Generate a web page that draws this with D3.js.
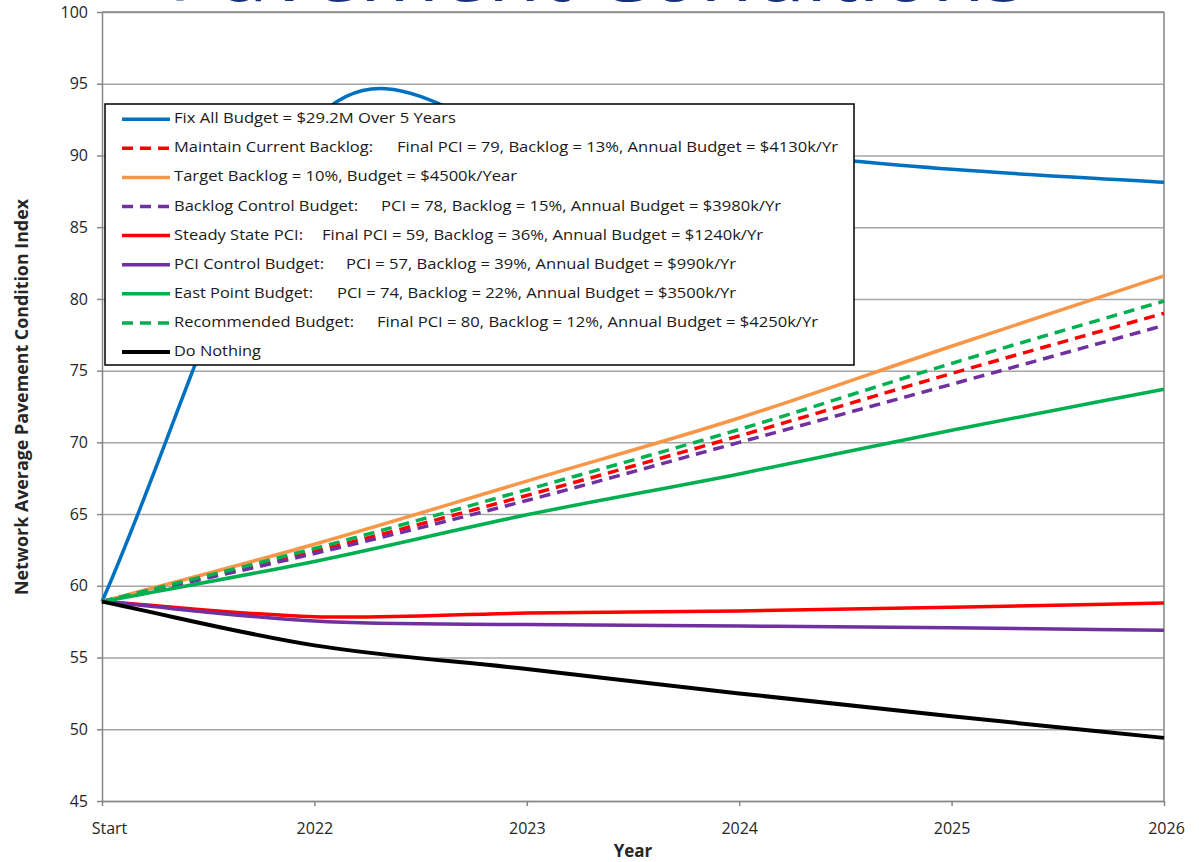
<!DOCTYPE html>
<html>
<head>
<meta charset="utf-8">
<script src="https://cdn.jsdelivr.net/npm/d3@7/dist/d3.min.js"></script>
<style>
  html, body { margin: 0; padding: 0; background: #ffffff; }
  svg { display: block; }
</style>
</head>
<body>
<svg id="chart" width="1199" height="862"></svg>
<script>
// ---------------- DATA ----------------
const categories = ["Start", "2022", "2023", "2024", "2025", "2026"];
const yTickValues = [45, 50, 55, 60, 65, 70, 75, 80, 85, 90, 95, 100];

const fixAllBudget      = [58.9, 92.4, 91.5, 90.3, 89.03, 88.13];
const maintainBacklog   = [58.9, 62.4, 66.3, 70.45, 74.8, 79.0];
const targetBacklog     = [58.9, 62.9, 67.3, 71.7, 76.7, 81.6];
const backlogControl    = [58.9, 62.25, 65.95, 70.0, 74.05, 78.15];
const steadyStatePCI    = [58.9, 57.85, 58.1, 58.25, 58.5, 58.8];
const pciControl        = [58.9, 57.55, 57.3, 57.2, 57.08, 56.9];
const eastPointBudget   = [58.9, 61.7, 64.95, 67.8, 70.85, 73.7];
const recommendedBudget = [58.9, 62.6, 66.7, 70.9, 75.5, 79.85];
const doNothing         = [58.9, 55.85, 54.2, 52.5, 50.9, 49.4];

const seriesNames = [
  ["Fix All Budget = $29.2M Over 5 Years", ""],
  ["Maintain Current Backlog:", "Final PCI = 79, Backlog = 13%, Annual Budget = $4130k/Yr"],
  ["Target Backlog = 10%, Budget = $4500k/Year", ""],
  ["Backlog Control Budget:", "PCI = 78, Backlog = 15%, Annual Budget = $3980k/Yr"],
  ["Steady State PCI:", "Final PCI = 59, Backlog = 36%, Annual Budget = $1240k/Yr"],
  ["PCI Control Budget:", "PCI = 57, Backlog = 39%, Annual Budget = $990k/Yr"],
  ["East Point Budget:", "PCI = 74, Backlog = 22%, Annual Budget = $3500k/Yr"],
  ["Recommended Budget:", "Final PCI = 80, Backlog = 12%, Annual Budget = $4250k/Yr"],
  ["Do Nothing", ""]
];
const seriesValues = [fixAllBudget, maintainBacklog, targetBacklog, backlogControl,
  steadyStatePCI, pciControl, eastPointBudget, recommendedBudget, doNothing];

const titleText = "Pavement Conditions";
const xTitle = "Year";
const yTitle = "Network Average Pavement Condition Index";

// ---------------- STYLES / LAYOUT ----------------
const seriesColors = ["#0070C0", "#FF0000", "#F79646", "#7030A0", "#FF0000",
  "#7030A0", "#00B050", "#00B050", "#000000"];
const seriesDashed = [false, true, false, true, false, false, false, true, false];
const seriesWidths = [3.5, 3.5, 3.5, 3.5, 3.5, 3.5, 3.5, 3.5, 4];

// legend text layout: [part1 start, part1 end, part2 start, part2 end]
const legendTextLayout = [
  [174, 456, 0, 0],
  [174, 373, 397, 838],
  [174, 517, 0, 0],
  [174, 358, 381, 781],
  [174, 303, 322, 763],
  [174, 324, 346, 736],
  [174, 313, 337, 736],
  [174, 354, 377, 818],
  [174, 261, 0, 0]
];

const plot = { left: 102, right: 1164, top: 12, bottom: 801 };
const FONT = "'Open Sans', 'Liberation Sans', sans-serif";

const svg = d3.select("#chart");

const x = d3.scalePoint().domain(categories).range([plot.left, plot.right]);
const y = d3.scaleLinear().domain([45, 100]).range([plot.bottom, plot.top]);

// Excel-like smoothed curve (Catmull-Rom Bezier with reflected end points)
function excelSmooth(context) {
  let pts = [];
  return {
    areaStart() {}, areaEnd() {},
    lineStart() { pts = []; },
    point(px, py) { pts.push([+px, +py]); },
    lineEnd() {
      const n = pts.length;
      if (!n) return;
      context.moveTo(pts[0][0], pts[0][1]);
      if (n === 1) return;
      const P = (i) => {
        if (i < 0) return [2 * pts[0][0] - pts[1][0], 2 * pts[0][1] - pts[1][1]];
        if (i >= n) return [2 * pts[n - 1][0] - pts[n - 2][0], 2 * pts[n - 1][1] - pts[n - 2][1]];
        return pts[i];
      };
      for (let i = 0; i < n - 1; i++) {
        const p0 = P(i - 1), p1 = P(i), p2 = P(i + 1), p3 = P(i + 2);
        context.bezierCurveTo(
          p1[0] + (p2[0] - p0[0]) / 6, p1[1] + (p2[1] - p0[1]) / 6,
          p2[0] - (p3[0] - p1[0]) / 6, p2[1] - (p3[1] - p1[1]) / 6,
          p2[0], p2[1]);
      }
    }
  };
}

// ---------------- TITLE (partially cut off at top, as in the reference) ----------------
svg.append("text")
  .attr("x", 597).attr("y", 1)
  .attr("text-anchor", "middle")
  .attr("font-family", FONT)
  .attr("font-size", 80)
  .attr("fill", "#17307a")
  .attr("textLength", 858)
  .attr("lengthAdjust", "spacingAndGlyphs")
  .text(titleText);

// ---------------- GRIDLINES ----------------
const grid = svg.append("g")
  .attr("transform", `translate(${plot.left},0)`)
  .call(d3.axisLeft(y).tickValues(yTickValues).tickSize(-(plot.right - plot.left)).tickFormat(""));
grid.select(".domain").remove();
grid.selectAll("line").attr("stroke", "#a6a6a6").attr("stroke-width", 1.5);

// plot border (top / right)
svg.append("line")
  .attr("x1", plot.right).attr("x2", plot.right)
  .attr("y1", plot.top).attr("y2", plot.bottom)
  .attr("stroke", "#868686").attr("stroke-width", 1.5);
svg.append("line")
  .attr("x1", plot.left).attr("x2", plot.right)
  .attr("y1", plot.top).attr("y2", plot.top)
  .attr("stroke", "#868686").attr("stroke-width", 1.5);

// ---------------- AXES ----------------
const yAxis = svg.append("g")
  .attr("transform", `translate(${plot.left},0)`)
  .call(d3.axisLeft(y).tickValues(yTickValues).tickSize(5).tickPadding(9).tickSizeOuter(0));
yAxis.select(".domain").attr("stroke", "#868686").attr("stroke-width", 1.5);
yAxis.selectAll(".tick line").attr("stroke", "#868686").attr("stroke-width", 1.5);
yAxis.selectAll(".tick text")
  .attr("font-family", FONT).attr("font-size", 16).attr("fill", "#262626");

const xAxis = svg.append("g")
  .attr("transform", `translate(0,${plot.bottom})`)
  .call(d3.axisBottom(x).tickSize(5).tickPadding(17).tickSizeOuter(0));
xAxis.select(".domain").attr("stroke", "#868686").attr("stroke-width", 1.5);
xAxis.selectAll(".tick line").attr("stroke", "#868686").attr("stroke-width", 1.5);
xAxis.selectAll(".tick text")
  .attr("font-family", FONT).attr("font-size", 16).attr("fill", "#262626")
  .attr("dx", d => d === categories[0] ? 7 : (d === categories[categories.length - 1] ? 2 : 0));

// axis titles
svg.append("text")
  .attr("transform", "translate(28,397) rotate(-90)")
  .attr("text-anchor", "middle")
  .attr("font-family", FONT).attr("font-weight", "bold").attr("font-size", 17)
  .attr("fill", "#262626")
  .attr("textLength", 396).attr("lengthAdjust", "spacingAndGlyphs")
  .text(yTitle);

svg.append("text")
  .attr("x", 633).attr("y", 857)
  .attr("text-anchor", "middle")
  .attr("font-family", FONT).attr("font-weight", "bold").attr("font-size", 17)
  .attr("fill", "#262626")
  .text(xTitle);

// ---------------- SERIES ----------------
const line = d3.line()
  .x((d, i) => x(categories[i]))
  .y(d => y(d))
  .curve(excelSmooth);

svg.append("g").selectAll("path")
  .data(seriesValues)
  .join("path")
  .attr("d", d => line(d))
  .attr("fill", "none")
  .attr("stroke", (d, i) => seriesColors[i])
  .attr("stroke-width", (d, i) => seriesWidths[i])
  .attr("stroke-linejoin", "round")
  .attr("stroke-dasharray", (d, i) => seriesDashed[i] ? "11,7" : null);

// ---------------- LEGEND ----------------
const legend = svg.append("g");
legend.append("rect")
  .attr("x", 105).attr("y", 104).attr("width", 749).attr("height", 261)
  .attr("fill", "#ffffff").attr("stroke", "#000000").attr("stroke-width", 1.5);

const rowY = (i) => 123.2 + i * 29.1;
const rows = legend.selectAll("g.row")
  .data(seriesNames)
  .join("g").attr("class", "row");

rows.append("line")
  .attr("x1", 122).attr("x2", 170)
  .attr("y1", (d, i) => rowY(i) - 4).attr("y2", (d, i) => rowY(i) - 4)
  .attr("stroke", (d, i) => seriesColors[i])
  .attr("stroke-width", (d, i) => seriesWidths[i])
  .attr("stroke-dasharray", (d, i) => seriesDashed[i] ? "11,7" : null);

rows.append("text")
  .attr("x", (d, i) => legendTextLayout[i][0])
  .attr("y", (d, i) => rowY(i))
  .attr("font-family", FONT).attr("font-size", 15).attr("fill", "#1a1a1a")
  .attr("textLength", (d, i) => legendTextLayout[i][1] - legendTextLayout[i][0])
  .attr("lengthAdjust", "spacingAndGlyphs")
  .text(d => d[0]);

rows.filter(d => d[1] !== "").append("text")
  .attr("x", d => legendTextLayout[seriesNames.indexOf(d)][2])
  .attr("y", d => rowY(seriesNames.indexOf(d)))
  .attr("font-family", FONT).attr("font-size", 15).attr("fill", "#1a1a1a")
  .attr("textLength", d => legendTextLayout[seriesNames.indexOf(d)][3] - legendTextLayout[seriesNames.indexOf(d)][2])
  .attr("lengthAdjust", "spacingAndGlyphs")
  .text(d => d[1]);
</script>
</body>
</html>
